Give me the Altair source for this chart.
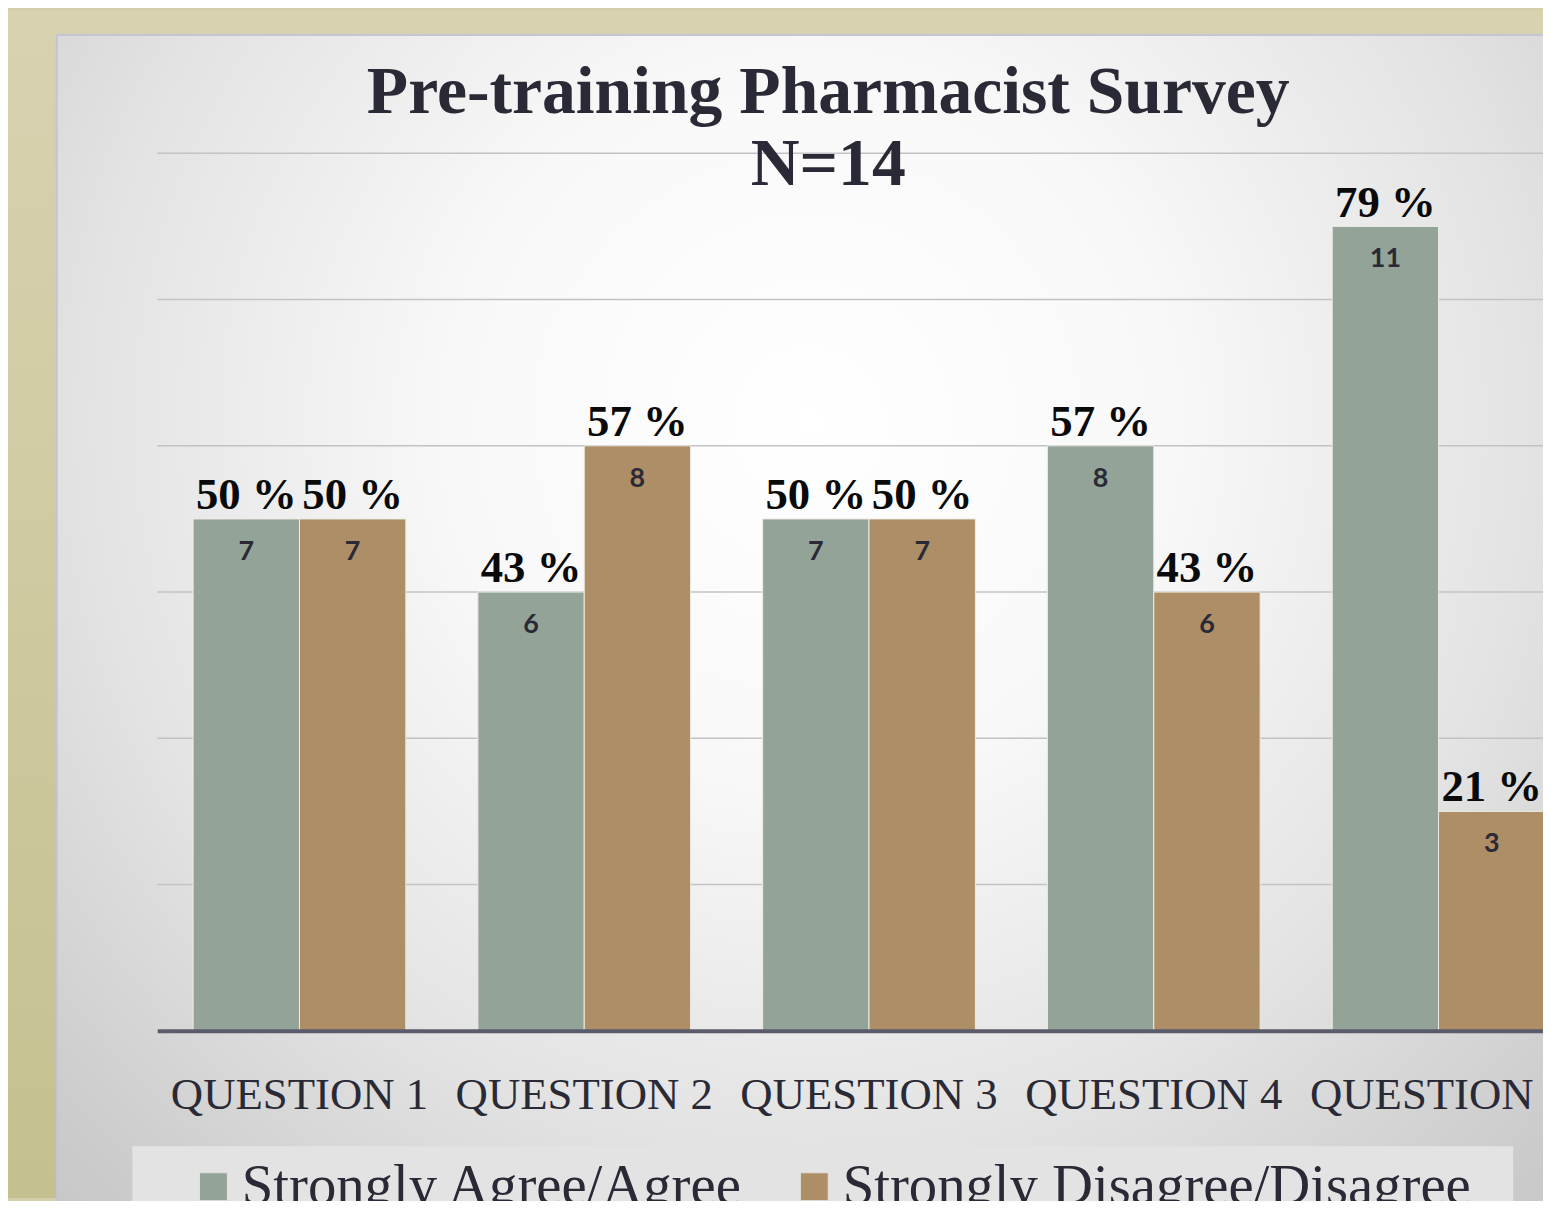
import altair as alt
import pandas as pd

questions = ["QUESTION 1", "QUESTION 2", "QUESTION 3", "QUESTION 4", "QUESTION 5"]
series = ["Strongly Agree/Agree", "Strongly Disagree/Disagree"]
agree_counts = [7, 6, 7, 8, 11]
disagree_counts = [7, 8, 7, 6, 3]
agree_pct = [50, 43, 50, 57, 79]
disagree_pct = [50, 57, 50, 43, 21]
grid_values = [2, 4, 6, 8, 10, 12]
title_lines = ["Pre-training Pharmacist Survey", "N=14"]

GREEN = "#93A398"
TAN = "#AD8E66"
INK = "#2A2A36"

rows = []
for q, c, p in zip(questions, agree_counts, agree_pct):
    rows.append({"question": q, "series": series[0], "count": c, "pct": f"{p} %"})
for q, c, p in zip(questions, disagree_counts, disagree_pct):
    rows.append({"question": q, "series": series[1], "count": c, "pct": f"{p} %"})
df = pd.DataFrame(rows)

W = 1393
H = 882

one = alt.Data(values=[{"k": 1}])

olive = alt.Chart(one).mark_rect(
    fill=alt.LinearGradient(
        gradient="linear", x1=0, y1=0, x2=0, y2=1,
        stops=[alt.GradientStop(color="#D7D3B1", offset=0),
               alt.GradientStop(color="#C4C08F", offset=1)],
    )
).encode(x=alt.value(-150), x2=alt.value(W), y=alt.value(-143), y2=alt.value(H + 168))

panel = alt.Chart(one).mark_rect(
    fill=alt.RadialGradient(
        gradient="radial", x1=0.5, y1=0.36, r1=0, x2=0.5, y2=0.36, r2=0.8,
        stops=[alt.GradientStop(color="#FFFFFF", offset=0),
               alt.GradientStop(color="#F8F8F8", offset=0.3),
               alt.GradientStop(color="#E3E3E3", offset=0.6),
               alt.GradientStop(color="#CBCBCB", offset=0.85),
               alt.GradientStop(color="#C2C2C2", offset=1)],
    ),
    stroke="#C4C4D2", strokeWidth=2,
).encode(x=alt.value(-101), x2=alt.value(W + 20), y=alt.value(-119), y2=alt.value(H + 200))

legend_box = alt.Chart(one).mark_rect(fill="#E3E3E3").encode(
    x=alt.value(-25), x2=alt.value(1363), y=alt.value(998), y2=alt.value(H + 200)
)

grid = alt.Chart(pd.DataFrame({"v": grid_values})).mark_rule(
    color="#C2C2C8", strokeWidth=1.5
).encode(y=alt.Y("v:Q", scale=alt.Scale(domain=[0, 12]), axis=None))

x_enc = alt.X(
    "question:N", sort=questions,
    scale=alt.Scale(range=[0, 1431], paddingInner=0.253, paddingOuter=0.126),
    axis=alt.Axis(
        title=None, labelAngle=0, ticks=False, grid=False,
        domainColor="#5B5B6E", domainWidth=4,
        labelFont="Liberation Serif", labelFontSize=45, labelColor=INK,
        labelPadding=42, labelLimit=400, labelOverlap=False, zindex=1,
    ),
)
xo_enc = alt.XOffset("series:N", sort=series, scale=alt.Scale(paddingInner=0, paddingOuter=0))
y_enc = alt.Y("count:Q", scale=alt.Scale(domain=[0, 12]), axis=None)

base = alt.Chart(df)

bars = base.mark_bar(stroke="#ECECE4", strokeWidth=1).encode(
    x=x_enc, xOffset=xo_enc, y=y_enc,
    color=alt.Color(
        "series:N", sort=series,
        scale=alt.Scale(domain=series, range=[GREEN, TAN]),
        legend=alt.Legend(
            title=None, orient="none", legendX=28, legendY=1010,
            direction="horizontal", columns=2, columnPadding=42,
            symbolType="square", symbolSize=784, symbolStrokeWidth=1,
            symbolStrokeColor="#E0E0DA", symbolOpacity=1,
            labelFont="Liberation Serif", labelFontSize=57, labelColor=INK,
            labelLimit=900, labelOffset=0, padding=0,
        ),
    ),
)

pct_text = base.mark_text(
    font="Liberation Serif", fontWeight="bold", fontSize=45, color="#0A0A0A",
    baseline="alphabetic", dy=-10,
).encode(x=x_enc, xOffset=xo_enc, y=y_enc, text="pct:N")

count_text = base.mark_text(
    font="Lato", fontWeight="bold", fontSize=27, color=INK,
    baseline="middle", dy=33,
).encode(x=x_enc, xOffset=xo_enc, y=y_enc, text="count:Q")

chart = alt.layer(olive, panel, legend_box, grid, bars, pct_text, count_text).properties(
    width=W, height=H,
    autosize=alt.AutoSizeParams(type="none"),
    padding={"left": 150, "top": 143, "right": 0, "bottom": 168},
    background="#D3CFAB",
    title=alt.TitleParams(
        text=title_lines, font="Liberation Serif", fontSize=68, fontWeight="bold",
        color=INK, anchor="middle", frame="group", lineHeight=73,
        baseline="alphabetic", offset=0, dx=-22, dy=243,
    ),
).configure_view(strokeWidth=0)

chart.save("out.html", embed_options={"renderer": "svg", "actions": False})
